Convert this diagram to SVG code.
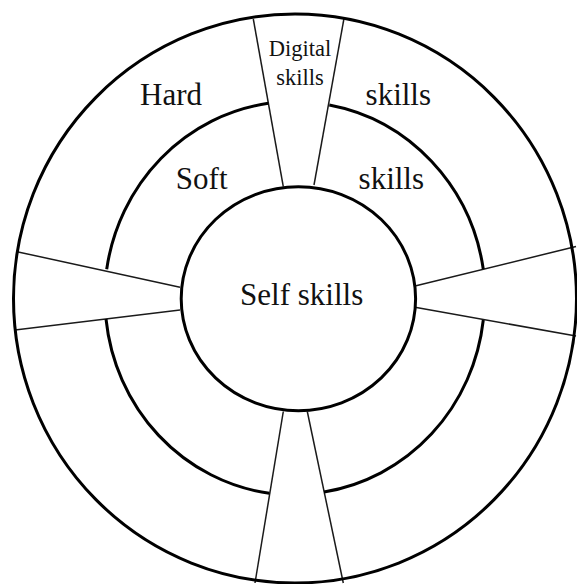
<svg xmlns="http://www.w3.org/2000/svg" width="577" height="584" viewBox="0 0 577 584">
  <style>
    .ring { fill: none; stroke: #000; stroke-width: 3; }
    .spoke { stroke: #1a1a1a; stroke-width: 1.5; fill: none; }
    .label { font-family: "Liberation Serif", "Times New Roman", serif; fill: #111; text-anchor: middle; }
    .big { font-size: 31px; }
    .small { font-size: 22.5px; }
  </style>
  <rect width="577" height="584" fill="#fff"/>

  <!-- radial dividers -->
  <g id="connectors">
    <line class="spoke" x1="253.3" y1="19" x2="283.3" y2="186.7"/>
    <line class="spoke" x1="344" y1="18.3" x2="314" y2="185"/>
    <line class="spoke" x1="17" y1="251.7" x2="180" y2="287.3"/>
    <line class="spoke" x1="15" y1="330" x2="180" y2="310"/>
    <line class="spoke" x1="415" y1="286" x2="576" y2="246.5"/>
    <line class="spoke" x1="415" y1="307.3" x2="576" y2="336"/>
    <line class="spoke" x1="283.3" y1="411.5" x2="255" y2="583"/>
    <line class="spoke" x1="307.3" y1="411.5" x2="343.3" y2="583"/>
  </g>

  <!-- outer ring: hard skills -->
  <g id="hard-skills">
    <ellipse class="ring" cx="295" cy="298.5" rx="281.5" ry="284.5"/>
    <text class="label big" x="171" y="104.5">Hard</text>
    <text class="label big" x="398.3" y="105">skills</text>
  </g>

  <!-- middle ring: soft skills, broken where the dividers pass -->
  <g id="soft-skills">
    <path class="ring" d="M 329.3 105 A 190 197 0 0 1 483.3 269.3
                          M 483.3 320 A 190 197 0 0 1 324 492
                          M 269.3 493.3 A 190 197 0 0 1 106 319
                          M 106.7 269.3 A 190 197 0 0 1 268.3 103.3"/>
    <text class="label big" x="201.7" y="189">Soft</text>
    <text class="label big" x="391.3" y="188.5">skills</text>
  </g>

  <!-- top sector -->
  <g id="digital-skills">
    <text class="label small" x="300" y="56">Digital</text>
    <text class="label small" x="300" y="85">skills</text>
  </g>

  <!-- core -->
  <g id="self-skills">
    <ellipse class="ring" cx="298.4" cy="298.7" rx="117.2" ry="112"/>
    <text class="label big" x="301.7" y="305">Self skills</text>
  </g>
</svg>
